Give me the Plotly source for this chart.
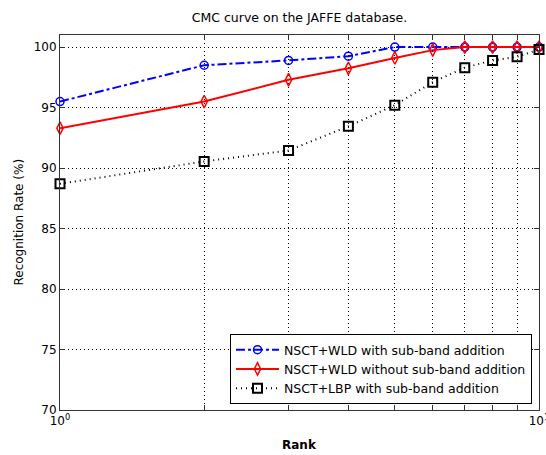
import plotly.graph_objects as go

rank = [1, 2, 3, 4, 5, 6, 7, 8, 9, 10]
wld_add = [95.5, 98.5, 98.9, 99.25, 100, 100, 100, 100, 100, 100]
wld_noadd = [93.3, 95.5, 97.3, 98.25, 99.1, 99.75, 100, 100, 100, 100]
lbp_add = [88.7, 90.55, 91.45, 93.45, 95.2, 97.1, 98.3, 98.9, 99.2, 99.8]
names = ["NSCT+WLD with sub-band addition",
         "NSCT+WLD without sub-band addition",
         "NSCT+LBP with sub-band addition"]
y_ticks = [70, 75, 80, 85, 90, 95, 100]
x_ticktext = ["10<sup>0</sup>", "", "", "", "", "", "", "", "", "10<sup>1</sup>"]

fig = go.Figure()
fig.add_trace(go.Scatter(x=rank, y=wld_add, name=names[0], mode="lines+markers", cliponaxis=False,
                         line=dict(color="blue", width=2, dash="dashdot"),
                         marker=dict(symbol="circle-open", size=8, color="blue", line=dict(width=1.5))))
fig.add_trace(go.Scatter(x=rank, y=wld_noadd, name=names[1], mode="lines+markers", cliponaxis=False,
                         line=dict(color="red", width=2, dash="solid"),
                         marker=dict(symbol="diamond-tall-open", size=9, color="red", line=dict(width=1.5))))
fig.add_trace(go.Scatter(x=rank, y=lbp_add, name=names[2], mode="lines+markers", cliponaxis=False,
                         line=dict(color="black", width=2, dash="1px,4px"),
                         marker=dict(symbol="square-open", size=9, color="black", line=dict(width=2))))

font = "DejaVu Sans, sans-serif"
fig.update_layout(
    width=546, height=455,
    margin=dict(l=60, r=7, t=35, b=45, autoexpand=False),
    paper_bgcolor="white", plot_bgcolor="white",
    font=dict(family=font, size=12, color="black"),
    title=dict(text="CMC curve on the JAFFE database.", x=0.5, xanchor="center", xref="paper",
               y=1 - 18 / 455, yanchor="middle", font=dict(size=12.5)),
    showlegend=True,
    legend=dict(x=1 - 7 / 479, y=6 / 375, xanchor="right", yanchor="bottom",
                bordercolor="black", borderwidth=1, bgcolor="white",
                font=dict(size=12.5), tracegroupgap=0, itemwidth=43),
    annotations=[
        dict(text="<b>Rank</b>", x=0.5, y=0, xref="paper", yref="paper",
             xanchor="center", yanchor="middle", yshift=-35, showarrow=False, font=dict(size=12)),
        dict(text="Recognition Rate (%)", x=0, y=0.5, xref="paper", yref="paper",
             xanchor="center", yanchor="middle", xshift=-42, textangle=-90, showarrow=False,
             font=dict(size=12)),
    ],
)
fig.update_xaxes(type="log", range=[0, 1], automargin=False,
                 tickvals=rank, ticktext=x_ticktext, ticklabeloverflow="allow",
                 ticks="inside", ticklen=5, tickcolor="#333",
                 showline=True, linecolor="#333", linewidth=1, mirror="ticks",
                 showgrid=True, gridcolor="black", griddash="1px,3px", gridwidth=1,
                 zeroline=False)
fig.update_yaxes(range=[70, 101], tickvals=y_ticks, automargin=False,
                 ticks="inside", ticklen=5, tickcolor="#333",
                 showline=True, linecolor="#333", linewidth=1, mirror="ticks",
                 showgrid=True, gridcolor="black", griddash="1px,3px", gridwidth=1,
                 zeroline=False)

fig.write_html("out.html", config={"displayModeBar": False},
               post_script="document.body.style.margin='0';document.body.style.overflow='hidden';")
